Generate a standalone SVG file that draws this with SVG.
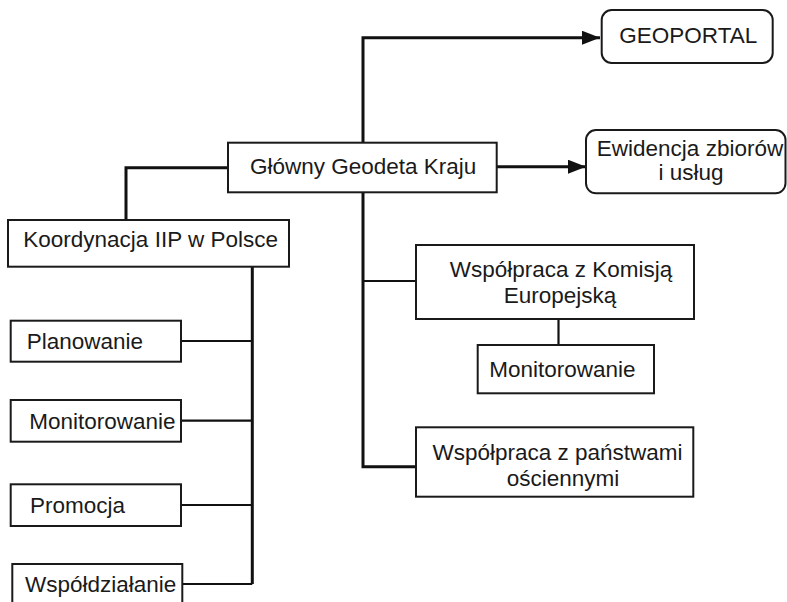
<svg xmlns="http://www.w3.org/2000/svg" width="787" height="602" viewBox="0 0 787 602">
<style>
.box{fill:#fff;stroke:#1a1a1a;stroke-width:2}
.t{font-family:"Liberation Sans",Arial,sans-serif;font-size:22.5px;fill:#1a1a1a}
.c{fill:none;stroke:#111;stroke-width:3}
.b{fill:none;stroke:#111;stroke-width:2.2}
</style>
<defs>
<marker id="arr" markerUnits="userSpaceOnUse" markerWidth="18" markerHeight="14" refX="18" refY="7" orient="auto">
<path d="M0,0 L18,7 L0,14 Z" fill="#111"/>
</marker>
</defs>
<rect width="787" height="602" fill="#fff"/>
<g id="connectors">
<path class="c" d="M363,143 V37.7 H600" marker-end="url(#arr)"/>
<path class="c" d="M497,166.7 H586" marker-end="url(#arr)"/>
<path class="c" d="M228,167.7 H126 V220"/>
<path class="c" d="M363,192.5 V466.7 H416"/>
<path class="b" d="M363,281 H416"/>
<path class="b" d="M558.5,319 V345"/>
<path class="c" d="M252.3,266.7 V584"/>
<path class="b" d="M181,341 H252.3 M181,420.7 H252.3 M181,505 H252.3 M182.3,584 H252.3"/>
</g>
<g id="geoportal">
<rect class="box" x="601.7" y="10" width="171" height="53" rx="10"/>
<text class="t" x="619.3" y="43.3">GEOPORTAL</text>
</g>
<g id="ewidencja">
<rect class="box" x="586" y="130" width="199.5" height="63.3" rx="10"/>
<text class="t" x="690" y="155.5" text-anchor="middle">Ewidencja zbiorów</text>
<text class="t" x="691" y="180" text-anchor="middle">i usług</text>
</g>
<g id="glowny">
<rect class="box" x="228" y="142.7" width="268.7" height="49.6"/>
<text class="t" x="250" y="173.5">Główny Geodeta Kraju</text>
</g>
<g id="koordynacja">
<rect class="box" x="8" y="220" width="281" height="46.7"/>
<text class="t" x="23.3" y="247.3">Koordynacja IIP w Polsce</text>
</g>
<g id="planowanie">
<rect class="box" x="10.7" y="320.7" width="170.3" height="41"/>
<text class="t" x="26.7" y="349.3">Planowanie</text>
</g>
<g id="monitorowanie1">
<rect class="box" x="10.7" y="400" width="170.3" height="41.7"/>
<text class="t" x="29.3" y="429">Monitorowanie</text>
</g>
<g id="promocja">
<rect class="box" x="10.7" y="484.3" width="170.3" height="41.7"/>
<text class="t" x="30" y="512.7">Promocja</text>
</g>
<g id="wspoldzialanie">
<rect class="box" x="12.3" y="564" width="170" height="50"/>
<text class="t" x="25" y="592.3">Współdziałanie</text>
</g>
<g id="komisja">
<rect class="box" x="416" y="245" width="278" height="74"/>
<text class="t" x="561" y="277.3" text-anchor="middle">Współpraca z Komisją</text>
<text class="t" x="560" y="303.3" text-anchor="middle">Europejską</text>
</g>
<g id="monitorowanie2">
<rect class="box" x="477.7" y="345" width="176.3" height="48.3"/>
<text class="t" x="489.3" y="376.7">Monitorowanie</text>
</g>
<g id="panstwa">
<rect class="box" x="416" y="427.3" width="277.3" height="69.4"/>
<text class="t" x="557.5" y="460" text-anchor="middle">Współpraca z państwami</text>
<text class="t" x="563" y="485.5" text-anchor="middle">ościennymi</text>
</g>
</svg>
